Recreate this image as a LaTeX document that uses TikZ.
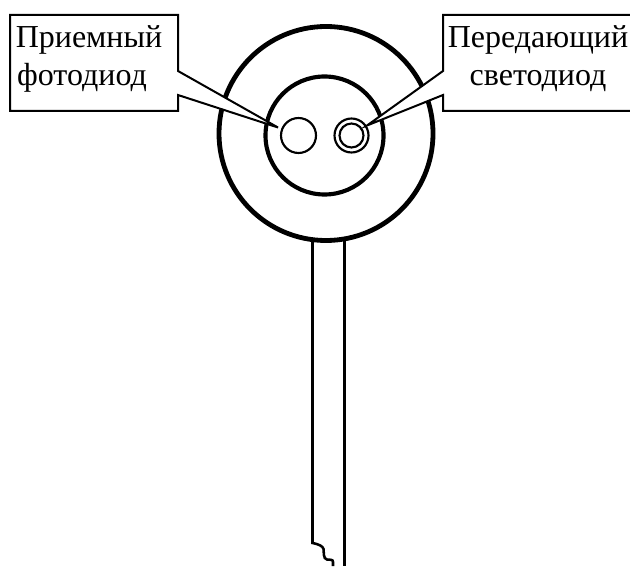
\documentclass[tikz,border=0pt]{standalone}
\usepackage{fontspec}
\setmainfont{Liberation Serif}
\begin{document}
\begin{tikzpicture}[x=0.75pt,y=-0.75pt,
  thickring/.style={line width=3.6pt},
  midring/.style={line width=3.1pt},
  thinring/.style={line width=1.6pt},
  stemline/.style={line width=1.9pt},
  callout/.style={line width=1.5pt,fill=white,line join=miter},
  label/.style={font=\fontsize{24}{27}\selectfont,inner sep=0pt,align=center}]
\useasboundingbox (0,0) rectangle (630,566);
\coordinate (c) at (326,133.5);
\coordinate (ci) at (324.5,135.5);
\coordinate (pd) at (298.5,135.5);
\coordinate (led) at (351.5,135.5);
% stem
\coordinate (sl0) at (312.5,240);
\coordinate (sr0) at (344.5,240);
\coordinate (sl1) at (312.5,543);
\coordinate (sr1) at (344.5,566);
\coordinate (sw) at (333,566);
\draw[stemline] (sl0) -- (sl1)
  .. controls (318,544) and (323,546) .. (323.5,549)
  .. controls (324,552) and (323,559) .. (327,559.5)
  .. controls (330,560) and (333,559) .. (333,562) -- (sw);
\draw[stemline] (sr0) -- (sr1);
% rings
\draw[thickring] (c) circle (107);
\draw[midring] (ci) circle (59);
\draw[thinring] (pd) circle (17.5);
\draw[thinring] (led) circle (17);
\draw[thinring] (led) circle (12);
% callouts
\coordinate (tipl) at (278,127.5);
\coordinate (tipr) at (367,125.5);
\draw[callout] (178,71) -- (tipl) -- (178,95) -- (178,111) -- (10,111) -- (10,15) -- (178,15) -- cycle;
\draw[callout] (443,71) -- (tipr) -- (443,95) -- (443,111) -- (632,111) -- (632,15) -- (443,15) -- cycle;
\node[label,anchor=base] (lt1) at (89,48) {Приемный};
\node[label,anchor=base] (lt2) at (82,86) {фотодиод};
\node[label,anchor=base] (rt1) at (538,48) {Передающий};
\node[label,anchor=base] (rt2) at (538,86) {светодиод};
\end{tikzpicture}
\end{document}
